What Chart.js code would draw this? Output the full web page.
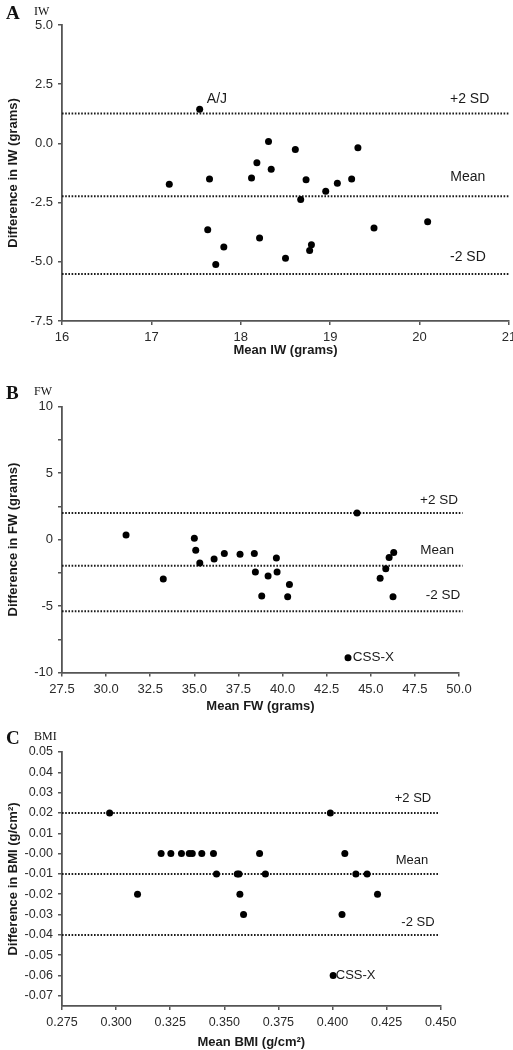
<!DOCTYPE html>
<html><head><meta charset="utf-8">
<script src="https://cdn.jsdelivr.net/npm/chart.js@4/dist/chart.umd.min.js"></script>
<style>
body{margin:0;background:#fff;width:513px;height:1050px;position:relative;overflow:hidden}
canvas{position:absolute;left:0}
.pl{position:absolute;font-family:"Liberation Serif","Times New Roman",serif;color:#111;line-height:1;white-space:nowrap}
.big{font-weight:bold;font-size:19px}
.sm{font-size:12px}
</style></head><body>
<canvas id="cA" width="513" height="358" style="top:0px"></canvas>
<canvas id="cB" width="513" height="356" style="top:358px"></canvas>
<canvas id="cC" width="513" height="336" style="top:714px"></canvas>
<div class="pl big" style="left:6px;top:3px">A</div><div class="pl sm" style="left:34px;top:5px">IW</div>
<div class="pl big" style="left:6px;top:383px">B</div><div class="pl sm" style="left:34px;top:385px">FW</div>
<div class="pl big" style="left:6px;top:728px">C</div><div class="pl sm" style="left:34px;top:730px">BMI</div>
<script>
// ---- Panel A: IW ----
const iwMean = [17.54, 18.31, 18.61, 19.31, 18.18, 18.34, 17.20, 17.65, 18.12, 18.73, 19.08, 19.24, 18.95, 18.67, 20.09, 19.49, 17.63, 18.21, 17.81, 18.79, 18.77, 18.50, 17.72];
const iwDiff = [1.44, 0.08, -0.26, -0.18, -0.82, -1.09, -1.72, -1.50, -1.46, -1.54, -1.68, -1.50, -2.02, -2.37, -3.31, -3.57, -3.65, -3.99, -4.37, -4.28, -4.52, -4.85, -5.11];
const iwLimits = [1.26, -2.23, -5.51];
const iwXTicks = [16, 17, 18, 19, 20, 21];
const iwXLabels = ['16', '17', '18', '19', '20', '21'];
const iwYTicks = [5, 2.5, 0, -2.5, -5, -7.5];
const iwYLabels = ['5.0', '2.5', '0.0', '-2.5', '-5.0', '-7.5'];
const iwNotes = ['A/J', '+2 SD', 'Mean', '-2 SD'];
const iwNoteX = [17.62, 20.56, 20.54, 20.54];
const iwNoteY = [1.88, 1.88, -1.41, -4.79];

// ---- Panel B: FW ----
const fwMean = [44.22, 31.13, 35.00, 35.08, 35.31, 36.12, 36.70, 37.59, 38.40, 38.46, 39.65, 39.69, 39.18, 38.82, 40.39, 40.29, 33.24, 45.53, 45.85, 46.04, 46.30, 46.26, 43.71];
const fwDiff = [2.0, 0.33, 0.1, -0.8, -1.76, -1.46, -1.05, -1.1, -1.05, -2.44, -1.4, -2.44, -2.74, -4.25, -3.39, -4.3, -2.97, -2.91, -2.19, -1.36, -0.98, -4.3, -8.89];
const fwLimits = [2.0, -1.98, -5.4];
const fwXTicks = [27.5, 30, 32.5, 35, 37.5, 40, 42.5, 45, 47.5, 50];
const fwXLabels = ['27.5', '30.0', '32.5', '35.0', '37.5', '40.0', '42.5', '45.0', '47.5', '50.0'];
const fwYTicks = [10, 7.5, 5, 2.5, 0, -2.5, -5, -7.5, -10];
const fwYLabels = ['10', '', '5', '', '0', '', '-5', '', '-10'];
const fwNotes = ['+2 SD', 'Mean', '-2 SD', 'CSS-X'];
const fwNoteX = [48.87, 48.76, 49.1, 43.98];
const fwNoteY = [2.94, -0.83, -4.22, -8.89];

// ---- Panel C: BMI ----
const bmiMean = [0.297, 0.399, 0.3208, 0.3253, 0.3302, 0.3338, 0.3352, 0.3396, 0.3450, 0.3663, 0.4057, 0.3464, 0.3560, 0.3568, 0.3690, 0.4108, 0.4160, 0.3099, 0.3572, 0.4208, 0.3589, 0.4044, 0.4003];
const bmiDiff = [0.02, 0.02, 0, 0, 0, 0, 0, 0, 0, 0, 0, -0.01, -0.01, -0.01, -0.01, -0.01, -0.01, -0.02, -0.02, -0.02, -0.03, -0.03, -0.06];
const bmiLimits = [0.02, -0.01, -0.04];
const bmiXTicks = [0.275, 0.3, 0.325, 0.35, 0.375, 0.4, 0.425, 0.45];
const bmiXLabels = ['0.275', '0.300', '0.325', '0.350', '0.375', '0.400', '0.425', '0.450'];
const bmiYTicks = [0.05, 0.04, 0.03, 0.02, 0.01, 0, -0.01, -0.02, -0.03, -0.04, -0.05, -0.06, -0.07];
const bmiYLabels = ['0.05', '0.04', '0.03', '0.02', '0.01', '-0.00', '-0.01', '-0.02', '-0.03', '-0.04', '-0.05', '-0.06', '-0.07'];
const bmiNotes = ['+2 SD', 'Mean', '-2 SD', 'CSS-X'];
const bmiNoteX = [0.4372, 0.4367, 0.4395, 0.4015];
const bmiNoteY = [0.0272, -0.0035, -0.0337, -0.06];

const FONT = '"Liberation Sans", Arial, sans-serif';
const INK = '#1a1a1a';

function notesPlugin(p) {
  return {
    id: 'notes',
    afterDatasetsDraw(chart) {
      const ctx = chart.ctx, xs = chart.scales.x, ys = chart.scales.y;
      ctx.save();
      ctx.font = p.noteSize + 'px ' + FONT;
      ctx.fillStyle = INK;
      ctx.textBaseline = 'middle';
      p.notes.forEach((t, i) => {
        ctx.textAlign = p.noteAlign[i];
        ctx.fillText(t, xs.getPixelForValue(p.noteX[i]), ys.getPixelForValue(p.noteY[i]));
      });
      ctx.restore();
    }
  };
}

function build(id, p) {
  const pts = p.xs.map((x, i) => ({x: x, y: p.ys[i]}));
  const lines = p.limits.map(v => ({
    data: [{x: p.lineFrom, y: v}, {x: p.lineTo, y: v}],
    showLine: true, borderColor: INK, borderWidth: 2, borderDash: [1.6, 1.6],
    pointRadius: 0, clip: false, order: 2
  }));
  const axisCommon = {
    grid: {display: true, drawOnChartArea: false, drawTicks: true, tickLength: 4, color: '#555', lineWidth: 1.5},
    border: {display: true, color: '#555', width: 1.8}
  };
  new Chart(document.getElementById(id), {
    type: 'scatter',
    data: {datasets: [...lines, {data: pts, backgroundColor: '#000', borderColor: '#000', pointRadius: 3.5, pointHoverRadius: 3.5, borderWidth: 0, order: 1}]},
    options: {
      responsive: false, animation: false, events: [],
      layout: {padding: {top: p.top, right: p.right, left: 0, bottom: 0}},
      plugins: {legend: {display: false}, tooltip: {enabled: false}},
      scales: {
        x: Object.assign({}, axisCommon, {
          type: 'linear', min: p.xMin, max: p.xMax,
          afterBuildTicks: s => { s.ticks = p.xTicks.map(v => ({value: v})); },
          afterFit: s => { s.height = p.xH; s.paddingLeft = 0; s.paddingRight = 0; },
          ticks: {callback: (v, i) => p.xLabels[i], color: '#2a2a2a', padding: 5, maxRotation: 0, autoSkip: false, font: {family: FONT, size: p.tickSize}},
          title: {display: true, text: p.xTitle, color: INK, padding: {top: 0, bottom: 0}, font: {family: FONT, size: 13, weight: 'bold'}}
        }),
        y: Object.assign({}, axisCommon, {
          type: 'linear', min: p.yMin, max: p.yMax,
          afterBuildTicks: s => { s.ticks = p.yTicks.map(v => ({value: v})); },
          afterFit: s => { s.width = 62; s.paddingTop = 0; s.paddingBottom = 0; },
          ticks: {callback: (v, i) => p.yLabels[i], color: '#2a2a2a', padding: 5, autoSkip: false, font: {family: FONT, size: p.tickSize}},
          title: {display: true, text: p.yTitle, color: INK, padding: {top: 5.5, bottom: 0}, font: {family: FONT, size: 13, weight: 'bold'}}
        })
      }
    },
    plugins: [notesPlugin(p)]
  });
}

build('cA', {
  xs: iwMean, ys: iwDiff, limits: iwLimits, lineFrom: 16, lineTo: 21,
  xMin: 16, xMax: 21, yMin: -7.5, yMax: 5,
  xTicks: iwXTicks, xLabels: iwXLabels, yTicks: iwYTicks, yLabels: iwYLabels,
  top: 25, right: 4, xH: 37, tickSize: 13,
  xTitle: 'Mean IW (grams)', yTitle: 'Difference in IW (grams)',
  notes: iwNotes, noteX: iwNoteX, noteY: iwNoteY, noteAlign: ['left', 'center', 'center', 'center'], noteSize: 14
});
build('cB', {
  xs: fwMean, ys: fwDiff, limits: fwLimits, lineFrom: 27.5, lineTo: 50.2,
  xMin: 27.5, xMax: 50, yMin: -10, yMax: 10,
  xTicks: fwXTicks, xLabels: fwXLabels, yTicks: fwYTicks, yLabels: fwYLabels,
  top: 48.5, right: 54, xH: 41.5, tickSize: 13,
  xTitle: 'Mean FW (grams)', yTitle: 'Difference in FW (grams)',
  notes: fwNotes, noteX: fwNoteX, noteY: fwNoteY, noteAlign: ['center', 'center', 'center', 'left'], noteSize: 13.5
});
build('cC', {
  xs: bmiMean, ys: bmiDiff, limits: bmiLimits, lineFrom: 0.275, lineTo: 0.4495,
  xMin: 0.275, xMax: 0.45, yMin: -0.075, yMax: 0.05,
  xTicks: bmiXTicks, xLabels: bmiXLabels, yTicks: bmiYTicks, yLabels: bmiYLabels,
  top: 38, right: 72.3, xH: 44, tickSize: 12.5,
  xTitle: 'Mean BMI (g/cm\u00B2)', yTitle: 'Difference in BMI (g/cm\u00B2)',
  notes: bmiNotes, noteX: bmiNoteX, noteY: bmiNoteY, noteAlign: ['center', 'center', 'center', 'left'], noteSize: 13
});
</script>
</body></html>
